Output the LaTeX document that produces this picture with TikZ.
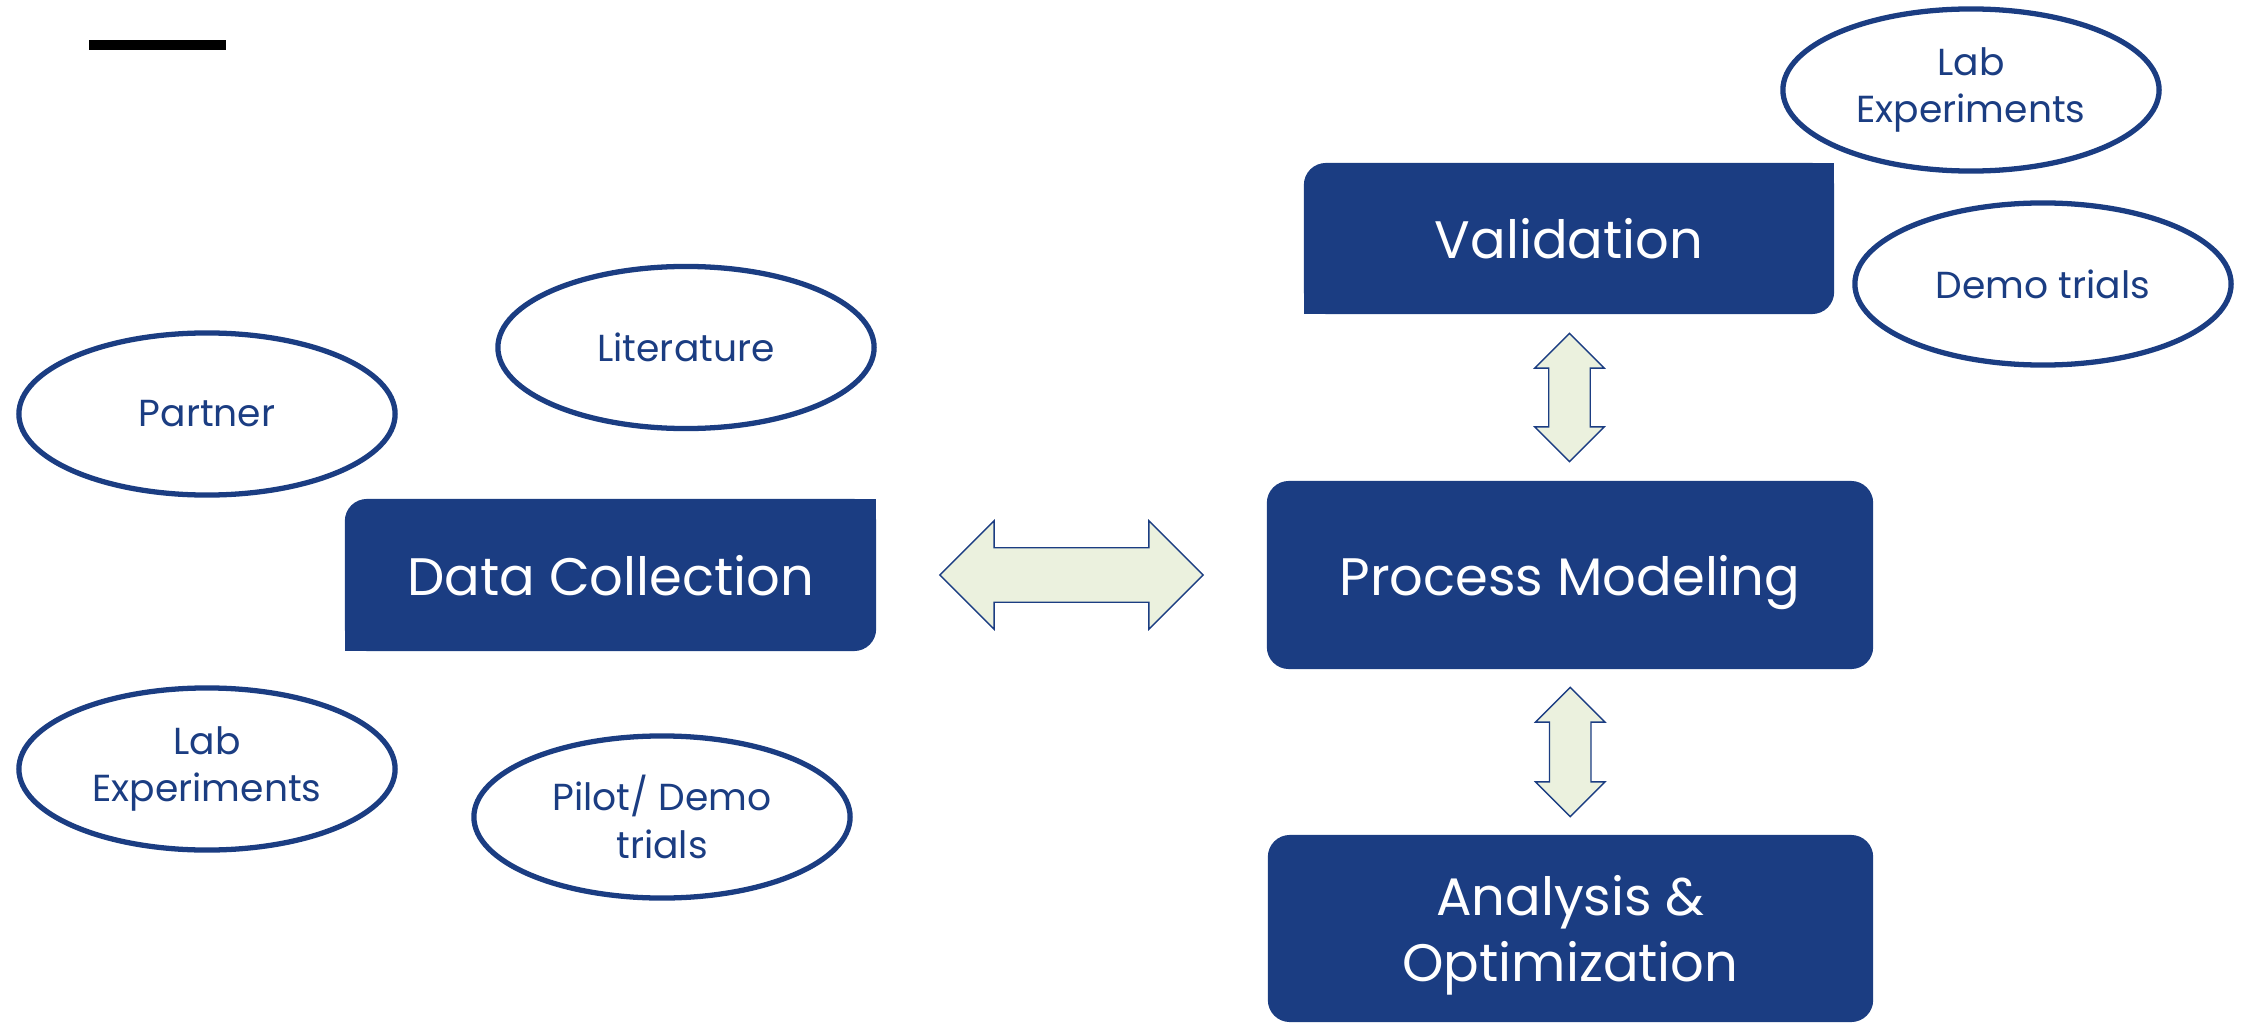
\documentclass[tikz,border=0pt]{standalone}
\usepackage{fontspec}
\setmainfont{Poppins}
\usetikzlibrary{shapes.geometric,shapes.arrows,calc}

\definecolor{boxblue}{RGB}{27,61,130}
\definecolor{arrowgreen}{RGB}{235,241,222}

\tikzset{
  stage/.style={fill=boxblue, text=white, rounded corners=0.22cm, align=center,
    inner sep=0, outer sep=0, text depth=0pt, font=\fontsize{15}{19}\selectfont},
  source/.style={ellipse, draw=boxblue, line width=1.5pt, text=boxblue, align=center,
    inner sep=0, minimum width=3.76cm, minimum height=1.62cm,
    font=\fontsize{10.7}{13.4}\selectfont},
  link/.style={double arrow, fill=arrowgreen, draw=boxblue, line width=0.4pt,
    inner xsep=0}
}

\begin{document}
\begin{tikzpicture}[x=0.01cm, y=-0.01cm]
	\useasboundingbox (0,0) rectangle (2247,1024);
	
	\fill (89,40) rectangle (226,50);
	
	\node[stage, minimum width=5.31cm, minimum height=1.52cm] (dc) at (610.5,575) {Data Collection};
	\node[stage, minimum width=5.30cm, minimum height=1.51cm] (val) at (1569,238.5) {Validation};
	\node[stage, minimum width=6.06cm, minimum height=1.88cm] (pm) at (1570,575) {Process Modeling};
	\node[stage, minimum width=6.05cm, minimum height=1.87cm] (ao) at (1570.5,928.5) {Analysis \&\\Optimization};
	
	% square corners
	\fill[boxblue] (dc.north east) rectangle ++(-30,30);
	\fill[boxblue] (dc.south west) rectangle ++(30,-30);
	\fill[boxblue] (val.north east) rectangle ++(-30,30);
	\fill[boxblue] (val.south west) rectangle ++(30,-30);
	
	\node[source] (partner) at (207,414) {Partner};
	\node[source] (lit) at (686,347.5) {Literature};
	\node[source] (lab) at (207,769) {Lab\\Experiments};
	\node[source] (pilot) at (662,817) {Pilot/ Demo\\trials};
	\node[source] (labval) at (1971,90) {Lab\\Experiments};
	\node[source] (demo) at (2043,284) {Demo trials};
	
	\node[link, inner ysep=0.265cm, double arrow head extend=0.27cm, minimum height=2.63cm] (dcpm) at ($(dc.east)!0.5!(pm.west)$) {};
	\node[link, inner ysep=0.2cm, double arrow head extend=0.14cm, minimum height=1.28cm, rotate=90] (valpm) at ($(val.south)!0.5!(pm.north)$) {};
	\node[link, inner ysep=0.2cm, double arrow head extend=0.14cm, minimum height=1.29cm, rotate=90] (pmao) at ($(pm.south)!0.5!(ao.north)$) {};
	
\end{tikzpicture}
\end{document}
